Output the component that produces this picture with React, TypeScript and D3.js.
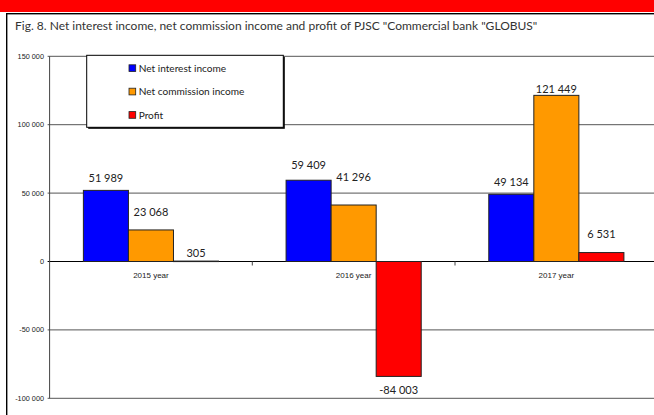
import React from "react";
import * as d3 from "d3";

const categories = ["2015 year", "2016 year", "2017 year"];
const seriesNames = ["Net interest income", "Net commission income", "Profit"];
const netInterest = [51989, 59409, 49134];
const netCommission = [23068, 41296, 121449];
const profit = [305, -84003, 6531];
const yTicks = [-100000, -50000, 0, 50000, 100000, 150000];
const title = 'Fig. 8. Net interest income, net commission income and profit of PJSC "Commercial bank "GLOBUS"';

const colors = ["#0000FF", "#FF9900", "#FF0000"];
// per-label vertical nudges (px) relative to the default position, [series][category]
const labelNudge = [
  [0, -3, 0],
  [-5, -15, 6],
  [5, 0, -6],
];

const W = 654;
const H = 415;

const locale = d3.formatLocale({
  decimal: ".",
  thousands: "\u00a0",
  grouping: [3],
  currency: ["", ""],
  minus: "-",
});
const fmt = locale.format(",d");

export default function App() {
  const series = [netInterest, netCommission, profit];
  const y = d3.scaleLinear().domain([-100000, 150000]).range([398.3, 56.3]);
  const x0 = d3
    .scaleBand<string>()
    .domain(categories)
    .range([49.6, 657.7])
    .paddingInner(1 / 3)
    .paddingOuter(1 / 6);
  const x1 = d3
    .scaleBand<string>()
    .domain(seriesNames)
    .range([0, x0.bandwidth()]);
  const step = x0.step();
  const plotLeft = 49.6;
  const plotRight = 657.7;
  const font = "Lato, 'Open Sans', sans-serif";
  const axisFont = "'Liberation Sans', Arial, sans-serif";

  return (
    <svg
      width={W}
      height={H}
      style={{ position: "absolute", left: 0, top: 0, background: "#fff" }}
    >
      <rect x={0} y={0} width={W} height={12} fill="#FF0000" />
      <rect x={6.7} y={13.7} width={W + 10} height={H} fill="#fff" stroke="#000" strokeWidth={1.4} />
      <text x={15} y={29.5} fontFamily={font} fontSize={12} fill="#333">
        {title}
      </text>

      {/* gridlines */}
      {yTicks.map((t) => (
        <line
          key={"g" + t}
          x1={plotLeft - 2}
          x2={plotRight}
          y1={y(t)}
          y2={y(t)}
          stroke={t === 0 ? "#000" : "#555"}
          strokeWidth={1}
        />
      ))}
      {/* y axis */}
      <line x1={plotLeft} x2={plotLeft} y1={y(150000)} y2={y(-100000)} stroke="#444" strokeWidth={1} />
      {yTicks.map((t) => (
        <text
          key={"t" + t}
          x={44}
          y={y(t)}
          dy="0.35em"
          textAnchor="end"
          fontFamily={axisFont}
          fontSize={7.3}
          fill="#222"
        >
          {fmt(t)}
        </text>
      ))}

      {/* bars */}
      {categories.map((c, ci) => (
        <g key={c} transform={`translate(${x0(c)},0)`}>
          {seriesNames.map((s, si) => {
            const v = series[si][ci];
            const yTop = y(Math.max(0, v));
            const yBot = y(Math.min(0, v));
            return (
              <rect
                key={s}
                x={x1(s)}
                y={yTop}
                width={x1.bandwidth()}
                height={Math.max(0.5, yBot - yTop)}
                fill={colors[si]}
                stroke="#222"
                strokeWidth={1}
              />
            );
          })}
        </g>
      ))}

      {/* category ticks */}
      {categories.slice(1).map((c) => (
        <line
          key={"ct" + c}
          x1={(x0(c) as number) - (step - x0.bandwidth()) / 2}
          x2={(x0(c) as number) - (step - x0.bandwidth()) / 2}
          y1={y(0)}
          y2={y(0) + 4}
          stroke="#444"
        />
      ))}
      {/* category labels */}
      {categories.map((c) => (
        <text
          key={"cl" + c}
          x={(x0(c) as number) + x0.bandwidth() / 2}
          y={y(0) + 14}
          dy="0.35em"
          textAnchor="middle"
          fontFamily={axisFont}
          fontSize={8}
          fill="#222"
        >
          {c}
        </text>
      ))}

      {/* value labels */}
      {categories.map((c, ci) =>
        seriesNames.map((s, si) => {
          const v = series[si][ci];
          const cx = (x0(c) as number) + (x1(s) as number) + x1.bandwidth() / 2;
          const base = v >= 0 ? y(v) - 12.5 : y(v) + 13.3;
          return (
            <text
              key={"vl" + c + s}
              x={cx}
              y={base + labelNudge[si][ci]}
              dy="0.35em"
              textAnchor="middle"
              fontFamily={font}
              fontSize={11}
              fill="#222"
            >
              {fmt(v)}
            </text>
          );
        })
      )}

      {/* legend */}
      <rect x={88.2} y={56.8} width={196.6} height={72} fill="#000" />
      <rect x={86.7} y={55.3} width={196.6} height={72} fill="#fff" stroke="#000" strokeWidth={1} />
      {seriesNames.map((s, si) => (
        <g key={"lg" + s} transform={`translate(129, ${68.3 + si * 23.4})`}>
          <rect x={0} y={-3.5} width={6.7} height={6.7} fill={colors[si]} stroke="#222" strokeWidth={0.8} />
          <text x={9.7} y={0} dy="0.35em" fontFamily={font} fontSize={10.1} fill="#222">
            {s}
          </text>
        </g>
      ))}
    </svg>
  );
}
